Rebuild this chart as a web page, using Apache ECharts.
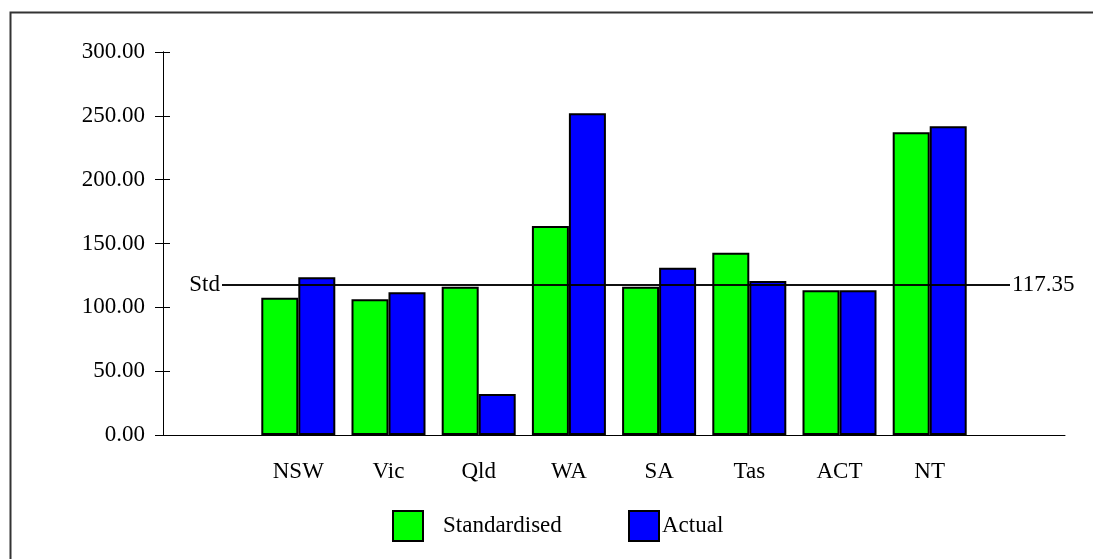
<!DOCTYPE html>
<html>
<head>
<meta charset="utf-8">
<script src="https://cdn.jsdelivr.net/npm/echarts@6/dist/echarts.min.js"></script>
<style>
html,body{margin:0;padding:0;background:#fff;}
#c{width:1093px;height:559px;}
</style>
</head>
<body>
<div id="c"></div>
<script>
// ---- data ----
var categories = ['NSW', 'Vic', 'Qld', 'WA', 'SA', 'Tas', 'ACT', 'NT'];
var standardised = [107.5, 106.3, 116.2, 163.7, 116.2, 142.8, 113.3, 237.1];
var actual = [123.5, 111.8, 32.1, 252.0, 131.0, 120.6, 113.3, 241.8];
var stdValue = 117.35;
var yTicks = [0, 50, 100, 150, 200, 250, 300];

// empty slot at each end of the category axis, as in the reference
var axisCats = [''].concat(categories, ['']);
var stdData = [null].concat(standardised, [null]);
var actData = [null].concat(actual, [null]);

var FONT = 'Liberation Serif';
var FS = 23;
var yMin = yTicks[0], yMax = yTicks[yTicks.length - 1], yStep = yTicks[1] - yTicks[0];
var chart = echarts.init(document.getElementById('c'));
chart.setOption({
  animation: false,
  backgroundColor: '#fff',
  textStyle: { fontFamily: FONT, color: '#000' },
  graphic: [{
    type: 'rect', left: 8, top: 10, silent: true,
    shape: { width: 1200, height: 700 },
    style: { fill: 'none', stroke: '#333', lineWidth: 2 }
  }],
  grid: [
    { left: 163, right: 28, top: 52, bottom: 124 },
    { left: 222, right: 83, top: 52, bottom: 124 },
    { left: 163, right: 28, top: 52, bottom: 124 }
  ],
  legend: [
    {
      data: ['Standardised'], left: 392, top: 510, padding: 0,
      itemWidth: 30, itemHeight: 30, icon: 'rect',
      textStyle: { fontFamily: FONT, fontSize: FS, color: '#000', padding: [0, 0, 6, 15] }
    },
    {
      data: ['Actual'], left: 628, top: 510, padding: 0,
      itemWidth: 30, itemHeight: 30, icon: 'rect',
      textStyle: { fontFamily: FONT, fontSize: FS, color: '#000', padding: [0, 0, 6, -2] }
    }
  ],
  xAxis: [
    {
      type: 'category', gridIndex: 0, data: axisCats,
      axisLine: { lineStyle: { color: '#000', width: 1 } },
      axisTick: { show: false },
      axisLabel: { fontFamily: FONT, fontSize: FS, color: '#000', margin: 25, interval: 0 }
    },
    { type: 'value', gridIndex: 1, min: 0, max: 1, show: false },
    { type: 'value', gridIndex: 2, min: 0, max: 1, show: false }
  ],
  yAxis: [
    {
      type: 'value', gridIndex: 0, position: 'left', min: yMin, max: yMax, interval: yStep,
      splitLine: { show: false },
      axisLine: { show: true, lineStyle: { color: '#000', width: 1 } },
      axisTick: { show: true, length: 8, lineStyle: { color: '#000' } },
      axisLabel: {
        fontFamily: FONT, fontSize: FS, color: '#000', margin: 18,
        formatter: function (v) { return v.toFixed(2); }
      }
    },
    { type: 'value', gridIndex: 1, min: yMin, max: yMax, show: false },
    {
      // copy of the value axis on the same line, giving the inner half of each tick
      type: 'value', gridIndex: 2, position: 'left', min: yMin, max: yMax, interval: yStep,
      splitLine: { show: false },
      axisLine: { show: true, lineStyle: { color: '#000', width: 1 } },
      axisTick: { show: true, inside: true, length: 7, lineStyle: { color: '#000' } },
      axisLabel: { show: false }
    }
  ],
  series: [
    {
      name: 'Standardised', type: 'bar', xAxisIndex: 0, yAxisIndex: 0,
      data: stdData, barWidth: 37, barGap: '0%',
      itemStyle: { color: '#00ff00', borderColor: '#000', borderWidth: 2 }
    },
    {
      name: 'Actual', type: 'bar', xAxisIndex: 0, yAxisIndex: 0,
      data: actData, barWidth: 37, barGap: '0%',
      itemStyle: { color: '#0000ff', borderColor: '#000', borderWidth: 2 }
    },
    {
      name: 'StdLine', type: 'line', xAxisIndex: 1, yAxisIndex: 1, data: [],
      markLine: {
        silent: true, symbol: ['none', 'none'], animation: false,
        lineStyle: { color: '#000', width: 1.5, type: 'solid' },
        data: [
          { yAxis: stdValue, label: { show: true, position: 'start', distance: 2, formatter: 'Std',
              fontFamily: FONT, fontSize: FS, color: '#000' } },
          { yAxis: stdValue, label: { show: true, position: 'end', distance: 2, formatter: stdValue.toFixed(2),
              fontFamily: FONT, fontSize: FS, color: '#000' } }
        ]
      }
    },
    { name: 'TickHelper', type: 'line', xAxisIndex: 2, yAxisIndex: 2, data: [], silent: true }
  ]
});
</script>
</body>
</html>
